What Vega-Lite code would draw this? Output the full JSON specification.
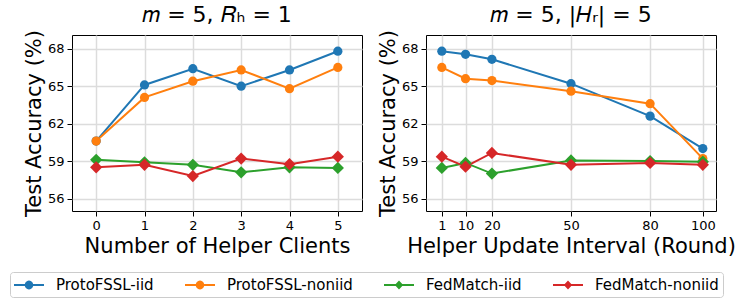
{
  "$schema": "https://vega.github.io/schema/vega-lite/v6.json",
  "padding": {"left": 9, "top": 3, "right": 5, "bottom": 5},
  "background": "white",
  "datasets": {
    "left": [
      {"x": 0, "series": "ProtoFSSL-iid", "acc": 60.6},
      {"x": 1, "series": "ProtoFSSL-iid", "acc": 65.1},
      {"x": 2, "series": "ProtoFSSL-iid", "acc": 66.4},
      {"x": 3, "series": "ProtoFSSL-iid", "acc": 65.0},
      {"x": 4, "series": "ProtoFSSL-iid", "acc": 66.3},
      {"x": 5, "series": "ProtoFSSL-iid", "acc": 67.8},
      {"x": 0, "series": "ProtoFSSL-noniid", "acc": 60.6},
      {"x": 1, "series": "ProtoFSSL-noniid", "acc": 64.1},
      {"x": 2, "series": "ProtoFSSL-noniid", "acc": 65.4},
      {"x": 3, "series": "ProtoFSSL-noniid", "acc": 66.3},
      {"x": 4, "series": "ProtoFSSL-noniid", "acc": 64.8},
      {"x": 5, "series": "ProtoFSSL-noniid", "acc": 66.5},
      {"x": 0, "series": "FedMatch-iid", "acc": 59.1},
      {"x": 1, "series": "FedMatch-iid", "acc": 58.9},
      {"x": 2, "series": "FedMatch-iid", "acc": 58.7},
      {"x": 3, "series": "FedMatch-iid", "acc": 58.1},
      {"x": 4, "series": "FedMatch-iid", "acc": 58.5},
      {"x": 5, "series": "FedMatch-iid", "acc": 58.45},
      {"x": 0, "series": "FedMatch-noniid", "acc": 58.5},
      {"x": 1, "series": "FedMatch-noniid", "acc": 58.7},
      {"x": 2, "series": "FedMatch-noniid", "acc": 57.8},
      {"x": 3, "series": "FedMatch-noniid", "acc": 59.2},
      {"x": 4, "series": "FedMatch-noniid", "acc": 58.75},
      {"x": 5, "series": "FedMatch-noniid", "acc": 59.35}
    ],
    "right": [
      {"x": 1, "series": "ProtoFSSL-iid", "acc": 67.8},
      {"x": 10, "series": "ProtoFSSL-iid", "acc": 67.55},
      {"x": 20, "series": "ProtoFSSL-iid", "acc": 67.15},
      {"x": 50, "series": "ProtoFSSL-iid", "acc": 65.2},
      {"x": 80, "series": "ProtoFSSL-iid", "acc": 62.6},
      {"x": 100, "series": "ProtoFSSL-iid", "acc": 60.0},
      {"x": 1, "series": "ProtoFSSL-noniid", "acc": 66.5},
      {"x": 10, "series": "ProtoFSSL-noniid", "acc": 65.6},
      {"x": 20, "series": "ProtoFSSL-noniid", "acc": 65.45},
      {"x": 50, "series": "ProtoFSSL-noniid", "acc": 64.6},
      {"x": 80, "series": "ProtoFSSL-noniid", "acc": 63.6},
      {"x": 100, "series": "ProtoFSSL-noniid", "acc": 59.2},
      {"x": 1, "series": "FedMatch-iid", "acc": 58.45},
      {"x": 10, "series": "FedMatch-iid", "acc": 58.85},
      {"x": 20, "series": "FedMatch-iid", "acc": 58.0},
      {"x": 50, "series": "FedMatch-iid", "acc": 59.05},
      {"x": 80, "series": "FedMatch-iid", "acc": 59.0},
      {"x": 100, "series": "FedMatch-iid", "acc": 58.95},
      {"x": 1, "series": "FedMatch-noniid", "acc": 59.35},
      {"x": 10, "series": "FedMatch-noniid", "acc": 58.55},
      {"x": 20, "series": "FedMatch-noniid", "acc": 59.65},
      {"x": 50, "series": "FedMatch-noniid", "acc": 58.7},
      {"x": 80, "series": "FedMatch-noniid", "acc": 58.85},
      {"x": 100, "series": "FedMatch-noniid", "acc": 58.7}
    ]
  },
  "config": {
    "font": "DejaVu Sans",
    "view": {"stroke": "black", "strokeWidth": 1},
    "title": {"fontSize": 22, "fontWeight": "normal", "color": "black", "offset": 3},
    "axis": {
      "domain": false,
      "grid": true,
      "gridColor": "#dcdcdc",
      "gridWidth": 1.5,
      "tickColor": "black",
      "tickSize": 5,
      "tickWidth": 1,
      "labelColor": "black",
      "labelFontSize": 13,
      "labelPadding": 3,
      "titleColor": "black",
      "titleFontSize": 21,
      "titleFontWeight": "normal",
      "titlePadding": 3
    },
    "legend": {
      "orient": "none",
      "legendX": -62,
      "legendY": 237,
      "direction": "horizontal",
      "columns": 4,
      "columnPadding": 31,
      "labelFontSize": 15,
      "labelColor": "black",
      "labelOffset": 24,
      "symbolSize": 324,
      "symbolStrokeWidth": 0,
      "padding": 4,
      "strokeColor": "#cccccc",
      "cornerRadius": 3
    }
  },
  "spacing": 13,
  "hconcat": [
    {
      "width": 290,
      "height": 176,
      "title": {"text": "𝑚 = 5, 𝑅ₕ = 1"},
      "data": {"name": "left"},
      "encoding": {
        "x": {"field": "x", "type": "quantitative", "title": "Number of Helper Clients",
              "scale": {"domain": [-0.5, 5.5], "nice": false, "zero": false},
              "axis": {"values": [0, 1, 2, 3, 4, 5]}},
        "y": {"field": "acc", "type": "quantitative", "title": "Test Accuracy (%)",
              "scale": {"domain": [55, 69.1], "nice": false, "zero": false},
              "axis": {"values": [56, 59, 62, 65, 68]}}
      },
      "layer": [
        {
          "mark": {"type": "line", "strokeWidth": 2},
          "encoding": {
            "color": {"field": "series", "type": "nominal",
                      "scale": {"range": ["#2ca02c", "#d62728", "#1f77b4", "#ff7f0e"]},
                      "legend": null}
          }
        },
        {
          "transform": [{"filter": "indexof(datum.series, 'ProtoFSSL') == 0"}],
          "mark": {"type": "point", "shape": "circle", "filled": true, "size": 85, "opacity": 1},
          "encoding": {
            "color": {"field": "series", "type": "nominal", "legend": null}
          }
        },
        {
          "transform": [{"filter": "indexof(datum.series, 'FedMatch') == 0"}],
          "mark": {"type": "point", "shape": "diamond", "filled": true, "size": 150, "opacity": 1},
          "encoding": {
            "color": {"field": "series", "type": "nominal", "legend": null}
          }
        },
        {
          "transform": [{"filter": "false"}],
          "mark": {"type": "point", "filled": true, "opacity": 1},
          "encoding": {
            "fill": {"field": "series", "type": "nominal",
                     "scale": {"domain": ["ProtoFSSL-iid", "ProtoFSSL-noniid", "FedMatch-iid", "FedMatch-noniid"],
                               "range": ["#1f77b4", "#ff7f0e", "#2ca02c", "#d62728"]},
                     "legend": {"title": null}},
            "shape": {"field": "series", "type": "nominal",
                      "scale": {"domain": ["ProtoFSSL-iid", "ProtoFSSL-noniid", "FedMatch-iid", "FedMatch-noniid"],
                                "range": [
                                  "M-1,-0.111H2.333V0.111H-1Z M1.133,0A0.467,0.467 0 1 1 0.2,0A0.467,0.467 0 1 1 1.133,0Z",
                                  "M-1,-0.111H2.333V0.111H-1Z M1.133,0A0.467,0.467 0 1 1 0.2,0A0.467,0.467 0 1 1 1.133,0Z",
                                  "M-1,-0.111H2.333V0.111H-1Z M0.667,-0.511L1.133,0L0.667,0.511L0.2,0Z",
                                  "M-1,-0.111H2.333V0.111H-1Z M0.667,-0.511L1.133,0L0.667,0.511L0.2,0Z"
                                ]},
                      "legend": {"title": null}}
          }
        }
      ]
    },
    {
      "width": 290,
      "height": 176,
      "title": {"text": "𝑚 = 5, |𝐻ᵣ| = 5"},
      "data": {"name": "right"},
      "encoding": {
        "x": {"field": "x", "type": "quantitative", "title": "Helper Update Interval (Round)",
              "scale": {"domain": [-5, 105], "nice": false, "zero": false},
              "axis": {"values": [1, 10, 20, 50, 80, 100]}},
        "y": {"field": "acc", "type": "quantitative", "title": "Test Accuracy (%)",
              "scale": {"domain": [55, 69.1], "nice": false, "zero": false},
              "axis": {"values": [56, 59, 62, 65, 68]}}
      },
      "layer": [
        {
          "mark": {"type": "line", "strokeWidth": 2},
          "encoding": {
            "color": {"field": "series", "type": "nominal", "legend": null}
          }
        },
        {
          "transform": [{"filter": "indexof(datum.series, 'ProtoFSSL') == 0"}],
          "mark": {"type": "point", "shape": "circle", "filled": true, "size": 85, "opacity": 1},
          "encoding": {
            "color": {"field": "series", "type": "nominal", "legend": null}
          }
        },
        {
          "transform": [{"filter": "indexof(datum.series, 'FedMatch') == 0"}],
          "mark": {"type": "point", "shape": "diamond", "filled": true, "size": 150, "opacity": 1},
          "encoding": {
            "color": {"field": "series", "type": "nominal", "legend": null}
          }
        }
      ]
    }
  ]
}
